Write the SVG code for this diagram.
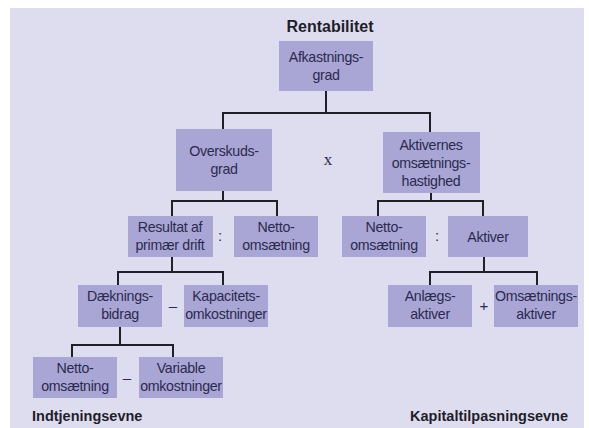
<svg xmlns="http://www.w3.org/2000/svg" width="589" height="428" viewBox="0 0 589 428">
<style>
.bg{fill:#dedcef}
.box{fill:#a9a6d5}
.t{font-family:"Liberation Sans",Arial,sans-serif;font-size:14.2px;letter-spacing:-0.3px;fill:#2b2a4e;text-anchor:middle}
.op{font-family:"Liberation Sans",Arial,sans-serif;font-size:15px;fill:#2b2a4e;text-anchor:middle}
.x{font-family:"Liberation Serif","Times New Roman",serif;font-size:17px;fill:#2b2a4e;text-anchor:middle}
.h{font-family:"Liberation Sans",Arial,sans-serif;font-weight:bold;fill:#1e1e2a}
.c{fill:none;stroke:#1f1f28;stroke-width:2}
</style>
<rect class="bg" x="10" y="8" width="574" height="420"/>
<text class="h" x="330" y="32" font-size="16" text-anchor="middle">Rentabilitet</text>
<g id="connectors">
<path class="c" d="M326 91V113M223 113H430M223 112V129M430 112V132"/>
<path class="c" d="M223 191V201M172 201H277M172 200V216M277 200V216"/>
<path class="c" d="M431 193V201M378 201H483M378 200V216M483 200V216"/>
<path class="c" d="M172 257V272M118 272H224M118 271V285M223 271V285"/>
<path class="c" d="M120 327V345M72 345H174M72 344V357M173 344V357"/>
<path class="c" d="M484 257V272M430 272H538M430 271V285M537 271V285"/>
</g>
<g id="afkastningsgrad"><rect class="box" x="279" y="41" width="94" height="50"/><text class="t" x="326" y="62">Afkastnings-</text><text class="t" x="326" y="80">grad</text></g>
<g id="overskudsgrad"><rect class="box" x="176" y="129" width="96" height="62"/><text class="t" x="224" y="156">Overskuds-</text><text class="t" x="224" y="174">grad</text></g>
<text class="x" x="328" y="165">x</text>
<g id="aktivernes"><rect class="box" x="383" y="132" width="97" height="61"/><text class="t" x="431" y="150">Aktivernes</text><text class="t" x="431" y="168">omsætnings-</text><text class="t" x="431" y="186">hastighed</text></g>
<g id="resultat"><rect class="box" x="128" y="216" width="85" height="41"/><text class="t" x="170" y="232">Resultat af</text><text class="t" x="170" y="250">primær drift</text></g>
<text class="op" x="220" y="241">:</text>
<g id="netto1"><rect class="box" x="234" y="216" width="84" height="41"/><text class="t" x="276" y="232">Netto-</text><text class="t" x="276" y="250">omsætning</text></g>
<g id="netto2"><rect class="box" x="342" y="216" width="84" height="41"/><text class="t" x="384" y="232">Netto-</text><text class="t" x="384" y="250">omsætning</text></g>
<text class="op" x="437" y="241">:</text>
<g id="aktiver"><rect class="box" x="448" y="216" width="80" height="41"/><text class="t" x="488" y="242">Aktiver</text></g>
<g id="daekningsbidrag"><rect class="box" x="78" y="285" width="84" height="42"/><text class="t" x="120" y="301">Dæknings-</text><text class="t" x="120" y="319">bidrag</text></g>
<text class="op" x="173" y="311">–</text>
<g id="kapacitetsomkostninger"><rect class="box" x="184" y="285" width="84" height="42"/><text class="t" x="226" y="301">Kapacitets-</text><text class="t" x="226" y="319">omkostninger</text></g>
<g id="netto3"><rect class="box" x="33" y="357" width="84" height="41"/><text class="t" x="75" y="373">Netto-</text><text class="t" x="75" y="391">omsætning</text></g>
<text class="op" x="127" y="383">–</text>
<g id="variable"><rect class="box" x="139" y="357" width="84" height="41"/><text class="t" x="181" y="373">Variable</text><text class="t" x="181" y="391">omkostninger</text></g>
<g id="anlaegsaktiver"><rect class="box" x="388" y="285" width="84" height="42"/><text class="t" x="430" y="301">Anlægs-</text><text class="t" x="430" y="319">aktiver</text></g>
<text class="op" x="484" y="311">+</text>
<g id="omsaetningsaktiver"><rect class="box" x="494" y="285" width="84" height="42"/><text class="t" x="536" y="301">Omsætnings-</text><text class="t" x="536" y="319">aktiver</text></g>
<text class="h" x="32" y="421" font-size="14.5">Indtjeningsevne</text>
<text class="h" x="568" y="421" font-size="14.5" text-anchor="end">Kapitaltilpasningsevne</text>
</svg>
